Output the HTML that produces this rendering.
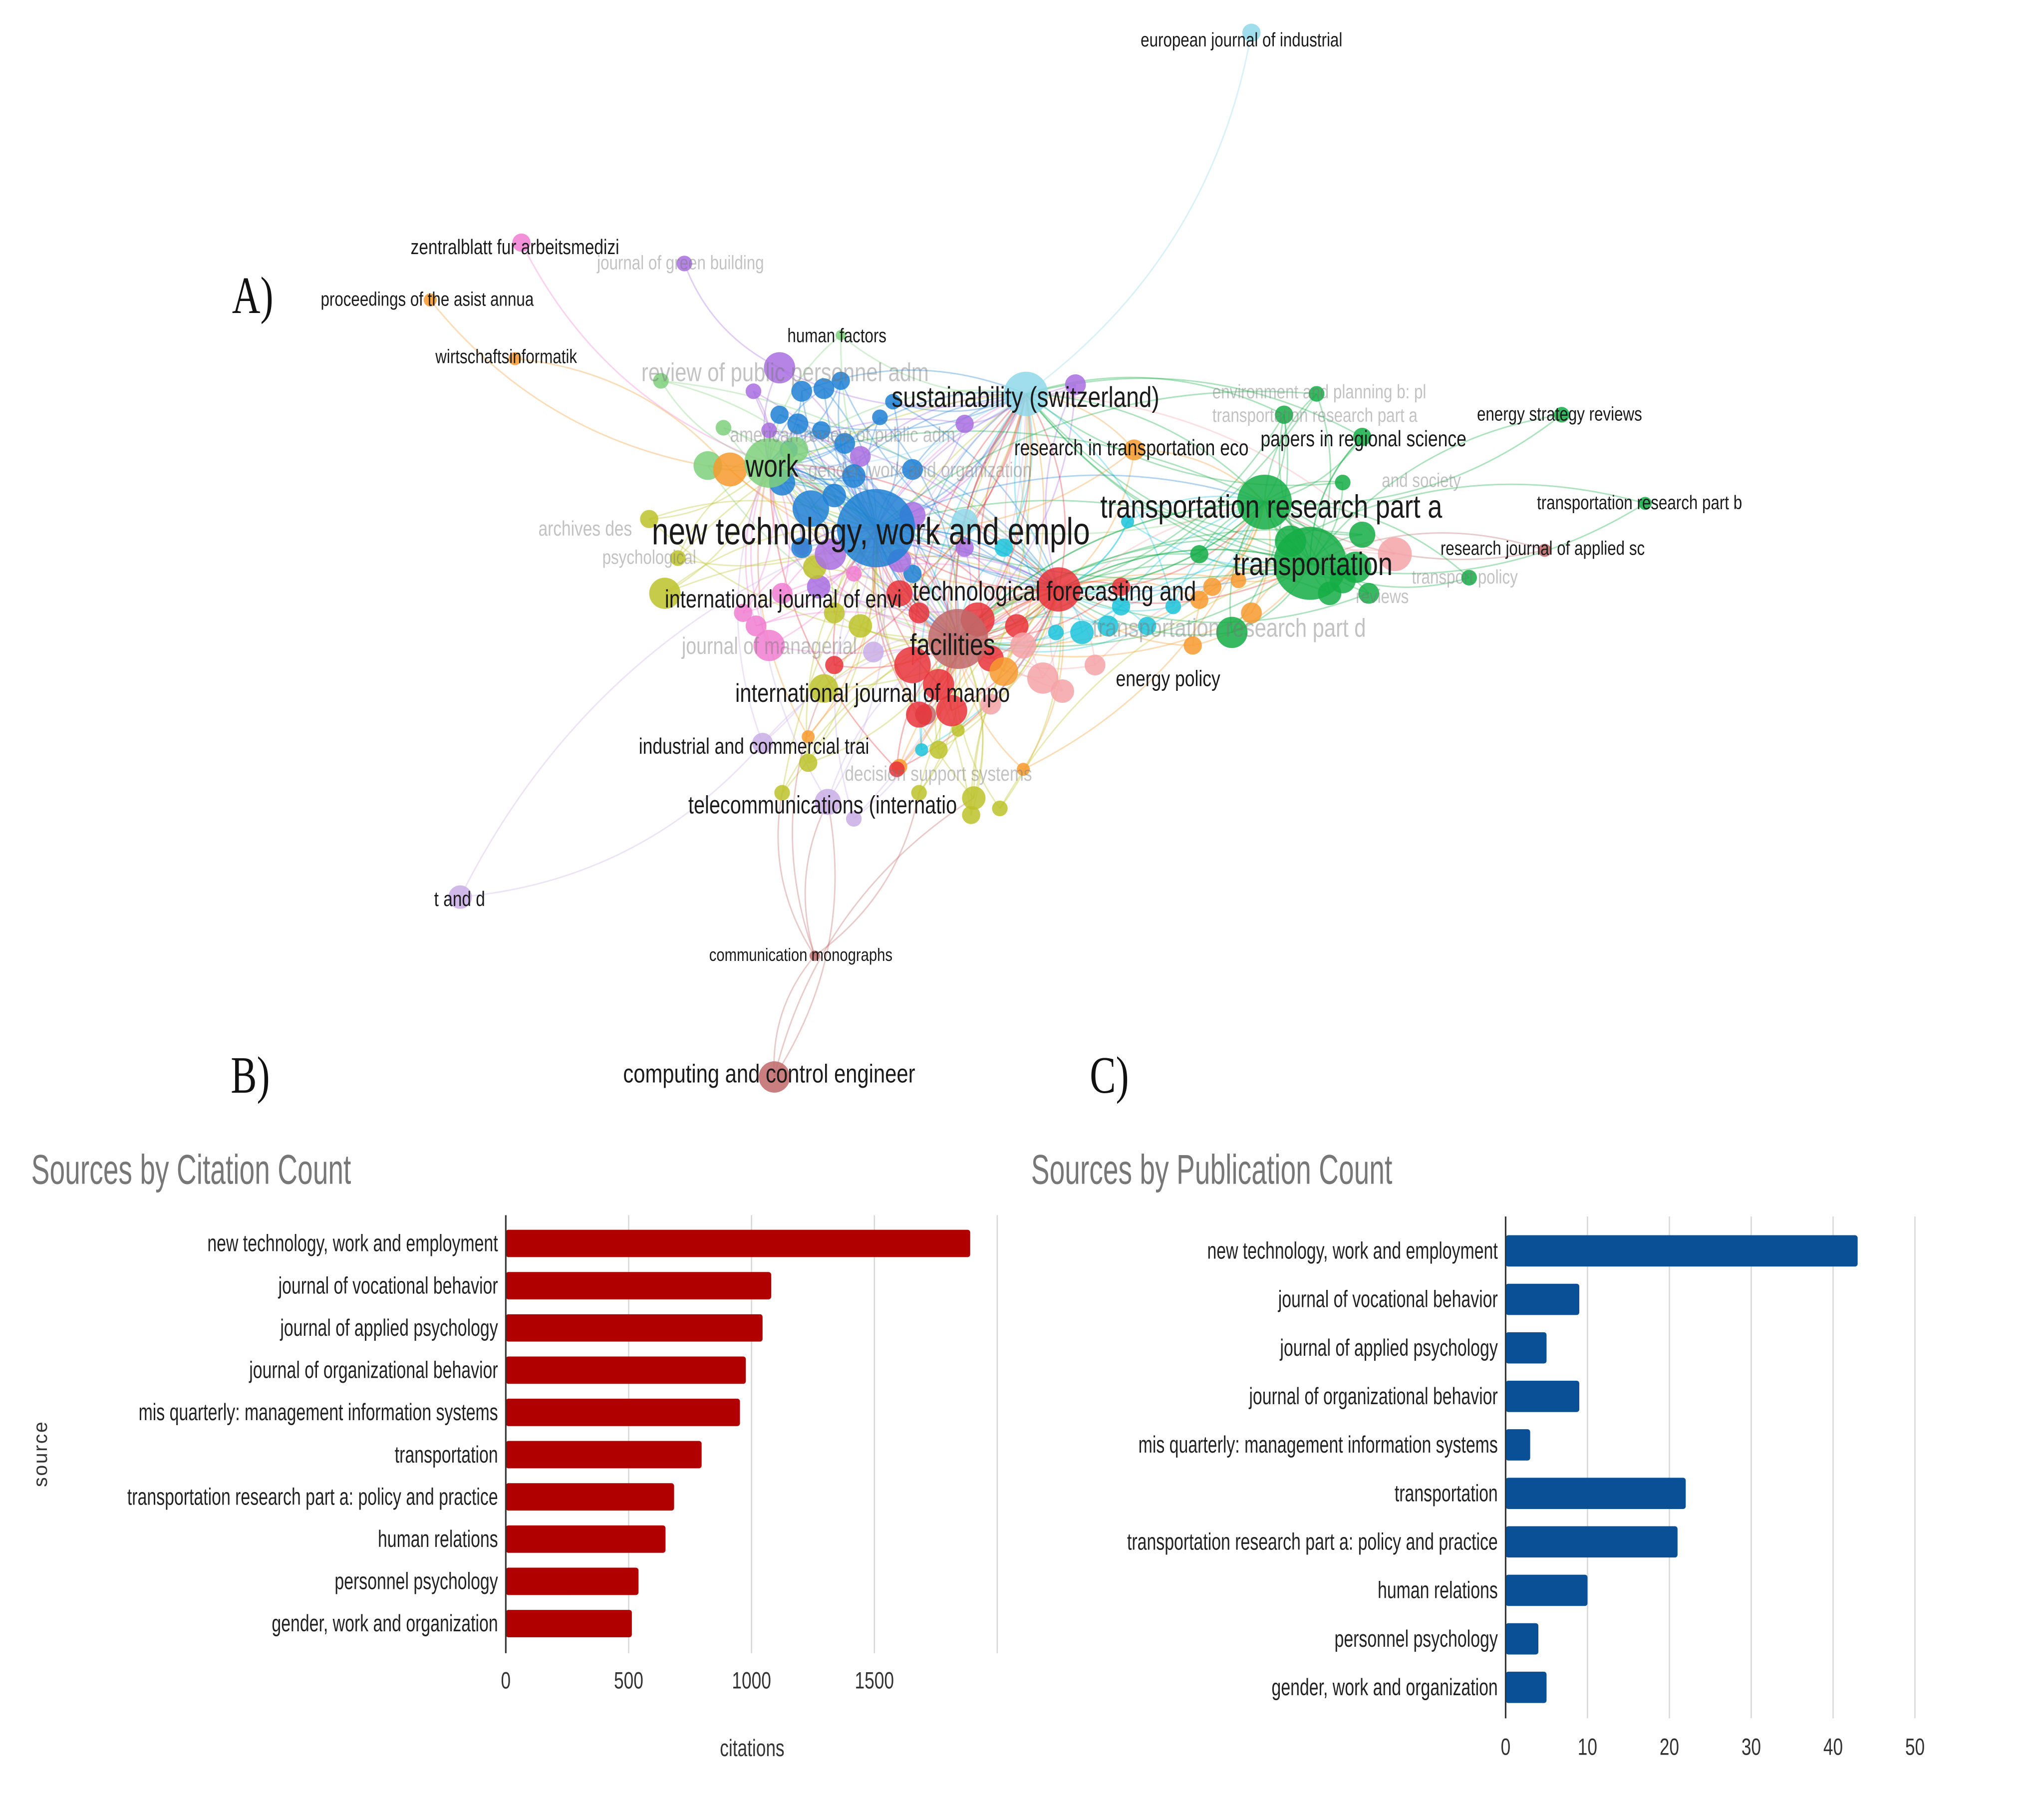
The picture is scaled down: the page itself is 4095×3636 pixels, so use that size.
<!DOCTYPE html>
<html><head><meta charset="utf-8"><style>
html,body{margin:0;padding:0;background:#fff}
svg{display:block}
</style></head><body>
<svg id="fig" xmlns="http://www.w3.org/2000/svg" width="4095" height="3636" viewBox="0 0 1568 1392" font-family="Liberation Sans, sans-serif">
<rect width="1568" height="1392" fill="#fff"/>
<g id="net"><g id="edges"></g><g id="nodes"></g><g id="nlabels"></g></g>
<text transform="translate(178,240) scale(0.75,1)" style="font-family:'Liberation Serif',serif" font-size="40" fill="#111">A)</text>
<text transform="translate(177,838) scale(0.75,1)" style="font-family:'Liberation Serif',serif" font-size="40" fill="#111">B)</text>
<text transform="translate(836,838) scale(0.75,1)" style="font-family:'Liberation Serif',serif" font-size="40" fill="#111">C)</text>
<g id="chartB"></g>
<g id="chartC"></g>
</svg>
<script>
const NS="http://www.w3.org/2000/svg";
// ---------- Bar chart data ----------
const sources=["new technology, work and employment","journal of vocational behavior","journal of applied psychology","journal of organizational behavior","mis quarterly: management information systems","transportation","transportation research part a: policy and practice","human relations","personnel psychology","gender, work and organization"];
const citations=[1890,1080,1045,977,953,797,685,650,540,513];
const publications=[43,9,5,9,3,22,21,10,4,5];
const citationTicks=[0,500,1000,1500,2000];
const citationTickLabels=["0","500","1000","1500",""];
const pubTicks=[0,10,20,30,40,50];
const pubTickLabels=["0","10","20","30","40","50"];

// ---------- Network data ----------
const colors={blue:"#1f80d4",purple:"#a86ee0",green:"#14ad45",lg:"#7fd07c",orange:"#f79a2e",cyan:"#1cc3db",lb:"#8fd8ea",red:"#e8333a",brown:"#c06868",lp:"#f4a3a8",yellow:"#bcc22a",pink:"#f07ed0",lav:"#c9aee6"};
const nodeX=[672,622,600,615,632,645,598,612,630,648,605,655,640,675,685,700,615,700, 598,578,590,660,740,825,690,628,700,740,637, 590,543,555,507,610,645, 560,870,930,950,920,770,785,915,960,690,620, 970,1005,945,1040,1045,1020,985,1010,1045,1030,920,1127,1198,1262,1050,1030,990, 787,865,830,850,880,900,860,770,707,740,810, 812,735,750,700,720,760,690,780,705,730,705,688,640,860, 1070,800,815,840,785,760, 510,520,498,632,660,625,620,600,747,767,705,720,745,735,640, 590,570,580,600,655,615, 635,655,585,353,670, 594,625,710, 960,400,525,330,395,1185];
const nodeY=[405,390,370,300,298,292,318,325,330,340,345,365,380,320,308,360,420,440, 282,300,330,350,325,295,430,450,395,420,425, 355,357,328,292,345,257, 360,345,450,445,460,515,590,495,470,588,565, 385,432,485,435,410,455,318,302,335,370,425,443,318,386,455,445,415, 302,400,485,480,480,465,465,420,575,400,485, 452,490,475,510,525,505,455,480,470,545,548,590,510,450, 425,520,530,510,495,540, 455,428,398,528,480,435,585,608,612,620,608,575,625,560,470, 495,470,480,455,440,420, 615,628,570,688,500, 826,733,548, 25,186,202,230,275,422];
const nodeR=[30,14,10,8,8,7,7,8,7,8,7,9,9,6,6,8,8,7, 12,6,6,8,7,8,9,9,10,7,12, 19,11,6,6,10,4, 13,8,7,6,7,11,5,7,8,6,5, 21,28,12,12,10,9,7,6,7,6,7,6,6,5,8,10,12, 17,5,9,8,7,6,7,7,5,10,6, 17,23,13,14,12,10,10,9,8,12,10,6,7,7, 13,12,9,8,10,8, 12,6,7,11,9,9,7,6,9,6,6,7,7,5,8, 12,7,8,8,6,6, 10,6,8,9,8, 12,4,8, 7,7,6,5,5,5];
const nodeC=["blue","blue","blue","blue","blue","blue","blue","blue","blue","blue","blue","blue","blue","blue","blue","blue","blue","blue",
"purple","purple","purple","purple","purple","purple","purple","purple","purple","purple","purple",
"lg","lg","lg","lg","lg","lg",
"orange","orange","orange","orange","orange","orange","orange","orange","orange","orange","orange",
"green","green","green","green","green","green","green","green","green","green","green","green","green","green","green","green","green",
"lb","cyan","cyan","cyan","cyan","cyan","cyan","cyan","cyan","lb","cyan",
"red","brown","red","red","red","red","red","red","red","red","red","red","red","red",
"lp","lp","lp","lp","lp","lp",
"yellow","yellow","yellow","yellow","yellow","yellow","yellow","yellow","yellow","yellow","yellow","yellow","yellow","yellow","yellow",
"pink","pink","pink","pink","pink","pink",
"lav","lav","lav","lav","lav",
"brown","brown","brown",
"lb","pink","purple","orange","orange","brown"];
const hubs=[0,47,46,75,74,63,29];
const outliers=[57,58,59,118,120,121,122,123,124,125,126,127,128];
const extraEdges=[[123,63],[124,29],[125,18],[126,35],[127,35],[128,47],[128,46],[58,47],[59,47],[57,47],[58,46],[59,62],[57,46],[121,120],[121,115],[121,101],[121,104],[121,97],[120,115],[120,102],[118,0],[118,117],[122,75],[122,0],[52,48],[52,63],[53,0],[54,47],[23,0],[36,0],[64,74]];
const labelText=["european journal of industrial","zentralblatt fur arbeitsmedizi","journal of green building","proceedings of the asist annua","wirtschaftsinformatik","human factors","review of public personnel adm","sustainability (switzerland)","research in transportation eco","papers in regional science","energy strategy reviews","transportation research part b","research journal of applied sc","transport policy","work","new technology, work and emplo","transportation research part a","transportation","international journal of envi","technological forecasting and","facilities","transportation research part d","energy policy","international journal of manpo","industrial and commercial trai","decision support systems","telecommunications (internatio","t and d","communication monographs","computing and control engineer","american review of public adm","gender, work and organization","archives des","psychological","journal of managerial","environment and planning b: pl","transportation research part a","and society","reviews"];
const labelX=[875,315,458,246,334,604,492,684,778,967,1133,1179,1105,1083,572,500,844,946,510,700,698,838,856,564,490,648,528,333,544,478,560,620,413,462,523,930,930,1060,1040];
const labelY=[30,189,201,229,273,257,285,304,343,336,317,385,420,442,357,407,388,432,459,453,494,481,520,531,572,593,617,689,732,823,333,360,405,427,495,300,318,368,457];
const labelS=[15,16,15,15,15,15,20,22,17,17,15,15,15,15,24,29,25,25,19,21,23,20,17,20,17,16,19,16,14,20,16,16,16,15,18,15,15,15,15];
const labelDark=[1,1,0,1,1,1,0,1,1,1,1,1,1,0,1,1,1,1,1,1,1,0,1,1,1,0,1,1,1,1,0,0,0,0,0,0,0,0,0];

function mk(tag,attrs,parent){const e=document.createElementNS(NS,tag);for(const k in attrs)e.setAttribute(k,attrs[k]);parent.appendChild(e);return e;}
function ctxt(parent,s,x,y,size,fill,anchor,f){const t=mk("text",{transform:`translate(${x},${y}) scale(${f},1)`,x:0,y:0,"font-size":size,fill:fill,"text-anchor":anchor||"start"},parent);t.textContent=s;return t;}

// ---------- network ----------
const gE=document.getElementById("edges"),gN=document.getElementById("nodes"),gL=document.getElementById("nlabels");
function edge(a,b,col){
  const x1=nodeX[a],y1=nodeY[a],x2=nodeX[b],y2=nodeY[b];
  const mx=(x1+x2)/2,my=(y1+y2)/2,dx=x2-x1,dy=y2-y1;
  const k=0.2*(((a+b)%2)?1:-1);
  const p=mk("path",{d:`M${x1},${y1} Q${mx-dy*k},${my+dx*k} ${x2},${y2}`,fill:"none",stroke:col,"stroke-width":1.1,"stroke-opacity":0.35},gE);
  
  
}
for(let i=0;i<nodeX.length;i++){
  if(outliers.includes(i)) continue;
  const d=hubs.filter(h=>h!==i).map(h=>[h,Math.hypot(nodeX[h]-nodeX[i],nodeY[h]-nodeY[i])]).sort((a,b)=>a[1]-b[1]);
  edge(i,d[0][0],colors[nodeC[i]]);
  edge(i,d[1][0],colors[nodeC[i]]);
  edge(i,d[2+(i%3)][0],colors[nodeC[i]]);
}
for(let a=0;a<hubs.length;a++)for(let b=a+1;b<hubs.length;b++)edge(hubs[a],hubs[b],colors[nodeC[hubs[a]]]);
extraEdges.forEach(p=>edge(p[0],p[1],colors[nodeC[p[0]]]));
const order=nodeR.map((r,i)=>i).sort((a,b)=>nodeR[a]-nodeR[b]);
order.forEach(i=>{
  const c=mk("circle",{cx:nodeX[i],cy:nodeY[i],r:nodeR[i],fill:colors[nodeC[i]],"fill-opacity":0.85},gN);
  
  
});
labelText.forEach((s,i)=>{
  const t=ctxt(gL,s,labelX[i],labelY[i]+labelS[i]*0.36,labelS[i],labelDark[i]?"#1a1a1a":"rgba(120,120,120,0.45)","start",0.8);
  
  
});

// ---------- bar chart helper ----------
function barChart(g,opt){
  const title=ctxt(g,opt.title,opt.titleX,opt.titleY,32,"#777","start",opt.titleF);
  
  
  const xs=v=>opt.x0+v*opt.ppu;
  opt.ticks.forEach((v,i)=>{
    if(v>0){const l=mk("line",{x1:xs(v),x2:xs(v),y1:opt.top,y2:opt.bottom,stroke:"#d8d8d8","stroke-width":1},g);
      
      }
    if(opt.tickLabels[i]!==""){const t=ctxt(g,opt.tickLabels[i],xs(v),opt.tickY,18,"#333","middle",0.75);
      
      }
  });
  sources.forEach((s,i)=>{
    const cy=opt.row0+i*opt.step;
    const r=mk("rect",{x:opt.x0,y:cy-opt.bh/2,width:Math.max(0,xs(opt.values[i])-opt.x0),height:opt.bh,rx:2,fill:opt.color},g);
    
    
    const t=ctxt(g,s,opt.labelR,cy+6,18,"#222","end",0.72);
    
    
  });
  const ax=mk("line",{x1:opt.x0,x2:opt.x0,y1:opt.top,y2:opt.bottom,stroke:"#333","stroke-width":1.2},g);
  
  
}
barChart(document.getElementById("chartB"),{title:"Sources by Citation Count",titleX:24,titleY:908,titleF:0.66,x0:388,ppu:0.1885,top:932,bottom:1268,row0:953.7,step:32.4,bh:21,values:citations,ticks:citationTicks,tickLabels:citationTickLabels,tickY:1295,labelR:382,color:"#b00000"});
barChart(document.getElementById("chartC"),{title:"Sources by Publication Count",titleX:791,titleY:908,titleF:0.66,x0:1155,ppu:6.28,top:933,bottom:1318,row0:959.4,step:37.2,bh:24,values:publications,ticks:pubTicks,tickLabels:pubTickLabels,tickY:1346,labelR:1149,color:"#0a5096"});
const gB=document.getElementById("chartB");
const xt=ctxt(gB,"citations",577,1347,18,"#333","middle",0.75);


const yt=mk("text",{transform:"translate(36,1115) rotate(-90)","font-size":15,fill:"#333","text-anchor":"middle","letter-spacing":1},gB);
yt.textContent="source";


</script>
</body></html>
